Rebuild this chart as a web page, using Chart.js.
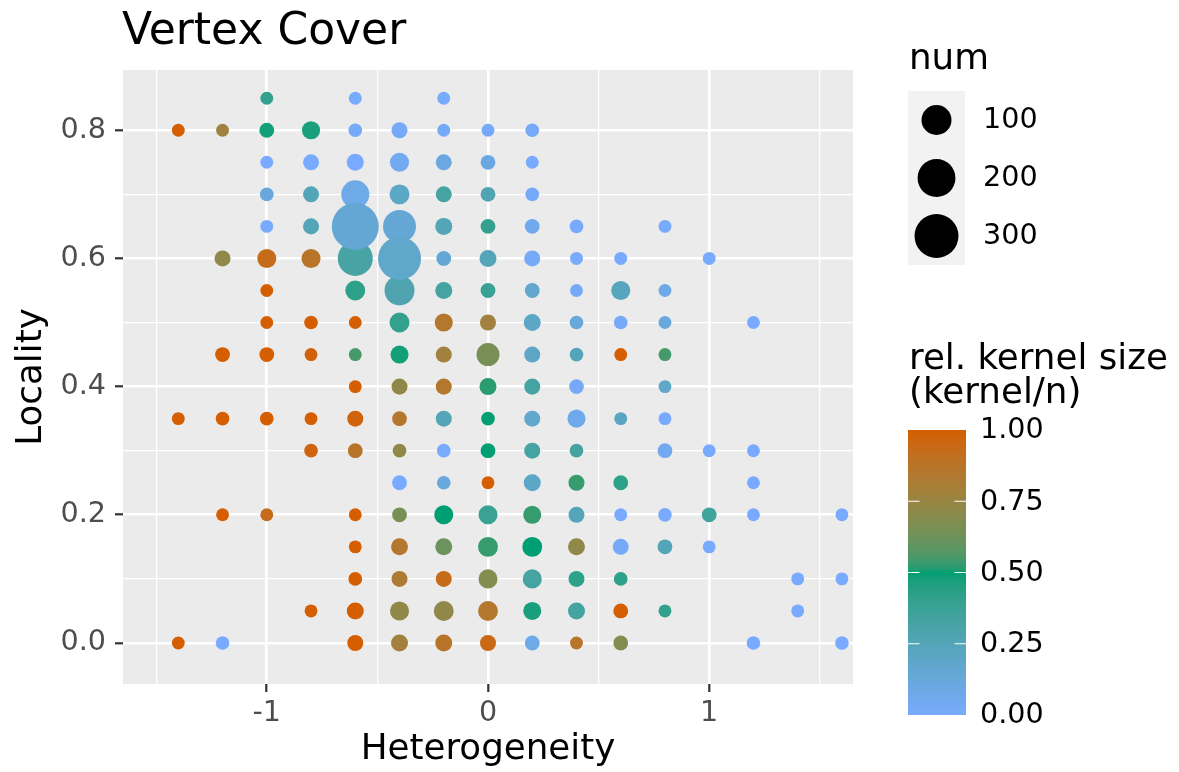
<!DOCTYPE html>
<html>
<head>
<meta charset="utf-8">
<script src="https://cdn.jsdelivr.net/npm/chart.js"></script>
<style>
html, body { margin: 0; background: #ffffff; }
canvas { display: block; }
</style>
</head>
<body>
<canvas id="myChart" width="1179" height="772"></canvas>
<script>
// one row per locality value, read top to bottom
var locality = [0.85, 0.8, 0.75, 0.7, 0.65, 0.6, 0.55, 0.5, 0.45, 0.4, 0.35, 0.3, 0.25, 0.2, 0.15, 0.1, 0.05, 0];

var heterogeneity = [
    [-1.0, -0.6, -0.2],
    [-1.4, -1.2, -1.0, -0.8, -0.6, -0.4, -0.2, 0, 0.2],
    [-1.0, -0.8, -0.6, -0.4, -0.2, 0, 0.2],
    [-1.0, -0.8, -0.6, -0.4, -0.2, 0, 0.2],
    [-1.0, -0.8, -0.6, -0.4, -0.2, 0, 0.2, 0.4, 0.8],
    [-1.2, -1.0, -0.8, -0.6, -0.4, -0.2, 0, 0.2, 0.4, 0.6, 1.0],
    [-1.0, -0.6, -0.4, -0.2, 0, 0.2, 0.4, 0.6, 0.8],
    [-1.0, -0.8, -0.6, -0.4, -0.2, 0, 0.2, 0.4, 0.6, 0.8, 1.2],
    [-1.2, -1.0, -0.8, -0.6, -0.4, -0.2, 0, 0.2, 0.4, 0.6, 0.8],
    [-0.6, -0.4, -0.2, 0, 0.2, 0.4, 0.8],
    [-1.4, -1.2, -1.0, -0.8, -0.6, -0.4, -0.2, 0, 0.2, 0.4, 0.6, 0.8],
    [-0.8, -0.6, -0.4, -0.2, 0, 0.2, 0.4, 0.8, 1.0, 1.2],
    [-0.4, -0.2, 0, 0.2, 0.4, 0.6, 1.2],
    [-1.2, -1.0, -0.6, -0.4, -0.2, 0, 0.2, 0.4, 0.6, 0.8, 1.0, 1.2, 1.6],
    [-0.6, -0.4, -0.2, 0, 0.2, 0.4, 0.6, 0.8, 1.0],
    [-0.6, -0.4, -0.2, 0, 0.2, 0.4, 0.6, 1.4, 1.6],
    [-0.8, -0.6, -0.4, -0.2, 0, 0.2, 0.4, 0.6, 0.8, 1.4],
    [-1.4, -1.2, -0.6, -0.4, -0.2, 0, 0.2, 0.4, 0.6, 1.2, 1.6]
];

var num = [
    [1, 1, 1],
    [1, 1, 4, 14, 2, 7, 1, 1, 2],
    [1, 7, 10, 18, 7, 4, 1],
    [2, 7, 80, 22, 7, 4, 2],
    [1, 7, 359, 134, 10, 4, 4, 2, 1],
    [7, 18, 18, 160, 284, 4, 10, 7, 1, 1, 1],
    [1, 22, 100, 10, 4, 4, 1, 18, 1],
    [1, 2, 1, 22, 14, 7, 10, 2, 2, 1, 1],
    [4, 4, 1, 1, 14, 7, 40, 7, 2, 1, 1],
    [1, 7, 7, 10, 7, 4, 1],
    [1, 2, 2, 1, 7, 4, 7, 2, 7, 14, 1, 1],
    [2, 4, 2, 2, 4, 7, 2, 4, 1, 1],
    [4, 2, 1, 10, 7, 4, 1],
    [1, 1, 1, 4, 18, 18, 14, 7, 1, 2, 4, 1, 1],
    [1, 10, 10, 22, 22, 10, 7, 4, 1],
    [2, 7, 7, 18, 18, 7, 2, 1, 1],
    [1, 10, 18, 22, 22, 14, 10, 4, 1, 1],
    [1, 2, 7, 10, 10, 7, 4, 1, 4, 2, 2]
];

// kernel / n
var relKernel = [
    [0.4, 0, 0],
    [1, 0.77, 0.48, 0.47, 0.02, 0.02, 0.02, 0.02, 0.02],
    [0, 0, 0, 0.05, 0.1, 0.1, 0],
    [0.12, 0.25, 0.08, 0.2, 0.33, 0.27, 0.02],
    [0, 0.25, 0.15, 0.15, 0.25, 0.4, 0.06, 0, 0],
    [0.72, 0.93, 0.87, 0.32, 0.18, 0.15, 0.25, 0.02, 0, 0, 0],
    [1, 0.42, 0.28, 0.33, 0.38, 0.17, 0.02, 0.23, 0.08],
    [1, 1, 1, 0.4, 0.85, 0.78, 0.2, 0.13, 0.02, 0.12, 0],
    [1, 1, 0.98, 0.55, 0.48, 0.78, 0.65, 0.2, 0.25, 1, 0.55],
    [1, 0.72, 0.85, 0.52, 0.33, 0.02, 0.18],
    [1, 1, 1, 1, 0.97, 0.85, 0.25, 0.5, 0.17, 0.07, 0.22, 0],
    [0.97, 0.87, 0.72, 0, 0.5, 0.33, 0.33, 0.05, 0, 0],
    [0, 0.12, 1, 0.2, 0.53, 0.42, 0],
    [1, 0.93, 1, 0.65, 0.5, 0.38, 0.53, 0.25, 0, 0, 0.35, 0, 0],
    [1, 0.85, 0.62, 0.53, 0.5, 0.72, 0.02, 0.25, 0],
    [1, 0.82, 0.93, 0.68, 0.33, 0.42, 0.42, 0, 0],
    [1, 1, 0.72, 0.72, 0.85, 0.47, 0.33, 1, 0.4, 0],
    [1, 0, 1, 0.78, 0.87, 0.95, 0.08, 0.87, 0.68, 0, 0]
];

var xTicks = [-1, 0, 1];
var yTicks = [0, 0.2, 0.4, 0.6, 0.8];
var xMinor = [-1.5, -0.5, 0.5, 1.5];
var yMinor = [0.1, 0.3, 0.5, 0.7];
var sizeBreaks = [100, 200, 300];
var colorBreaks = [0, 0.25, 0.5, 0.75, 1];

var LOW = '#78AAFF', MID = '#009E73', HIGH = '#D55E00';
var FONT = '"DejaVu Sans"';

// lab interpolation like ggplot's gradient2
function hexRgb(h) {
    return [parseInt(h.substr(1, 2), 16), parseInt(h.substr(3, 2), 16), parseInt(h.substr(5, 2), 16)];
}
function toLab(c) {
    var lin = function (v) { v /= 255; return v <= 0.04045 ? v / 12.92 : Math.pow((v + 0.055) / 1.055, 2.4); };
    var R = lin(c[0]), G = lin(c[1]), B = lin(c[2]);
    var X = (0.4124564 * R + 0.3575761 * G + 0.1804375 * B) / 0.95047;
    var Y = 0.2126729 * R + 0.7151522 * G + 0.0721750 * B;
    var Z = (0.0193339 * R + 0.1191920 * G + 0.9503041 * B) / 1.08883;
    var f = function (t) { return t > 216 / 24389 ? Math.cbrt(t) : (24389 / 27 * t + 16) / 116; };
    return [116 * f(Y) - 16, 500 * (f(X) - f(Y)), 200 * (f(Y) - f(Z))];
}
function fromLab(l) {
    var fy = (l[0] + 16) / 116, fx = fy + l[1] / 500, fz = fy - l[2] / 200;
    var inv = function (t) { return t * t * t > 216 / 24389 ? t * t * t : (116 * t - 16) / (24389 / 27); };
    var X = inv(fx) * 0.95047, Y = inv(fy), Z = inv(fz) * 1.08883;
    var R = 3.2404542 * X - 1.5371385 * Y - 0.4985314 * Z;
    var G = -0.9692660 * X + 1.8760108 * Y + 0.0415560 * Z;
    var B = 0.0556434 * X - 0.2040259 * Y + 1.0572252 * Z;
    var gam = function (v) {
        v = v <= 0.0031308 ? 12.92 * v : 1.055 * Math.pow(v, 1 / 2.4) - 0.055;
        return Math.round(Math.min(1, Math.max(0, v)) * 255);
    };
    return 'rgb(' + gam(R) + ',' + gam(G) + ',' + gam(B) + ')';
}
var labLow = toLab(hexRgb(LOW)), labMid = toLab(hexRgb(MID)), labHigh = toLab(hexRgb(HIGH));
function colorAt(v) {
    var a, b, t;
    if (v <= 0.5) { a = labLow; b = labMid; t = v / 0.5; }
    else { a = labMid; b = labHigh; t = (v - 0.5) / 0.5; }
    return fromLab([a[0] + (b[0] - a[0]) * t, a[1] + (b[1] - a[1]) * t, a[2] + (b[2] - a[2]) * t]);
}
function diameter(n) {
    return 11 + 1.9 * Math.sqrt(n);
}

var points = [];
locality.forEach(function (y, i) {
    heterogeneity[i].forEach(function (x, j) {
        points.push({ x: x, y: y, num: num[i][j], k: relKernel[i][j] });
    });
});
points.sort(function (a, b) { return a.num - b.num; });

function isMinor(list, v) { return list.indexOf(v) >= 0; }

var decor = {
    id: 'decor',
    beforeDraw: function (chart) {
        var ctx = chart.ctx, a = chart.chartArea;
        ctx.save();
        ctx.fillStyle = '#EBEBEB';
        ctx.fillRect(a.left, a.top, a.right - a.left, a.bottom - a.top);
        ctx.restore();
    },
    afterDraw: function (chart) {
        var ctx = chart.ctx;
        ctx.save();
        ctx.fillStyle = '#000000';
        ctx.textAlign = 'left';
        ctx.textBaseline = 'alphabetic';
        ctx.font = '44px ' + FONT;
        ctx.fillText('Vertex Cover', 122, 44);

        // size legend
        ctx.font = '35.7px ' + FONT;
        ctx.fillText('num', 909, 69);
        ctx.fillStyle = '#F2F2F2';
        ctx.fillRect(908, 91, 57, 174);
        ctx.font = '28.6px ' + FONT;
        ctx.textBaseline = 'middle';
        sizeBreaks.forEach(function (n, i) {
            var cy = 120 + i * 58;
            ctx.fillStyle = '#000000';
            ctx.beginPath();
            ctx.arc(936.5, cy, diameter(n) / 2, 0, Math.PI * 2);
            ctx.fill();
            ctx.fillText(String(n), 983, cy + 1);
        });

        // colour bar
        ctx.textBaseline = 'alphabetic';
        ctx.font = '35.7px ' + FONT;
        ctx.fillText('rel. kernel size', 909, 369);
        ctx.fillText('(kernel/n)', 909, 403);
        var top = 430, bot = 715, bx = 908, bw = 58;
        for (var y = top; y < bot; y++) {
            ctx.fillStyle = colorAt(1 - (y + 0.5 - top) / (bot - top));
            ctx.fillRect(bx, y, bw, 1);
        }
        ctx.strokeStyle = '#FFFFFF';
        ctx.lineWidth = 1;
        ctx.font = '28.6px ' + FONT;
        ctx.textBaseline = 'middle';
        ctx.fillStyle = '#000000';
        colorBreaks.forEach(function (v) {
            var py = bot - v * (bot - top);
            if (v > 0 && v < 1) {
                ctx.beginPath();
                ctx.moveTo(bx, py); ctx.lineTo(bx + 11.5, py);
                ctx.moveTo(bx + bw - 11.5, py); ctx.lineTo(bx + bw, py);
                ctx.stroke();
            }
            ctx.fillText(v.toFixed(2), 980, py + 1);
        });
        ctx.restore();
    }
};

Chart.defaults.font.family = 'DejaVu Sans';

var ctx = document.getElementById('myChart').getContext('2d');
var myChart = new Chart(ctx, {
    type: 'bubble',
    data: {
        datasets: [{
            label: 'num',
            data: points,
            backgroundColor: function (c) { return colorAt(c.raw.k); },
            radius: function (c) { return diameter(c.raw.num) / 2; },
            hoverRadius: 0,
            borderWidth: 0,
            hoverBorderWidth: 0
        }]
    },
    options: {
        responsive: false,
        animation: false,
        devicePixelRatio: 1,
        events: [],
        layout: { padding: { left: 0, top: 70, right: 326, bottom: 0 } },
        plugins: {
            legend: { display: false },
            tooltip: { enabled: false }
        },
        scales: {
            x: {
                type: 'linear',
                min: -1.65,
                max: 1.65,
                afterBuildTicks: function (s) {
                    s.ticks = xTicks.concat(xMinor).sort(function (a, b) { return a - b; })
                        .map(function (v) { return { value: v }; });
                },
                afterFit: function (s) { s.height = 88; },
                ticks: {
                    autoSkip: false,
                    maxRotation: 0,
                    padding: 4,
                    color: '#4D4D4D',
                    font: { size: 28.6 },
                    callback: function (v) { return xTicks.indexOf(v) >= 0 ? String(v) : ''; }
                },
                grid: {
                    color: '#FFFFFF',
                    lineWidth: function (c) { return c.tick && isMinor(xMinor, c.tick.value) ? 1.3 : 2.6; },
                    tickLength: 8,
                    tickWidth: 2.2,
                    tickColor: function (c) { return c.tick && isMinor(xMinor, c.tick.value) ? 'rgba(0,0,0,0)' : '#333333'; }
                },
                border: { display: false },
                title: {
                    display: true,
                    text: 'Heterogeneity',
                    color: '#000000',
                    font: { size: 35.7, lineHeight: 1 },
                    padding: { top: 0, bottom: 4 }
                }
            },
            y: {
                type: 'linear',
                min: -0.064,
                max: 0.894,
                afterBuildTicks: function (s) {
                    s.ticks = yTicks.concat(yMinor).sort(function (a, b) { return a - b; })
                        .map(function (v) { return { value: v }; });
                },
                afterFit: function (s) { s.width = 123; },
                ticks: {
                    autoSkip: false,
                    padding: 9,
                    color: '#4D4D4D',
                    font: { size: 28.6 },
                    callback: function (v) { return yTicks.indexOf(v) >= 0 ? v.toFixed(1) : ''; }
                },
                grid: {
                    color: '#FFFFFF',
                    lineWidth: function (c) { return c.tick && isMinor(yMinor, c.tick.value) ? 1.3 : 2.6; },
                    tickLength: 8,
                    tickWidth: 2.2,
                    tickColor: function (c) { return c.tick && isMinor(yMinor, c.tick.value) ? 'rgba(0,0,0,0)' : '#333333'; }
                },
                border: { display: false },
                title: {
                    display: true,
                    text: 'Locality',
                    color: '#000000',
                    font: { size: 35.7, lineHeight: 1 },
                    padding: { top: 14, bottom: 0 }
                }
            }
        }
    },
    plugins: [decor]
});
</script>
</body>
</html>
